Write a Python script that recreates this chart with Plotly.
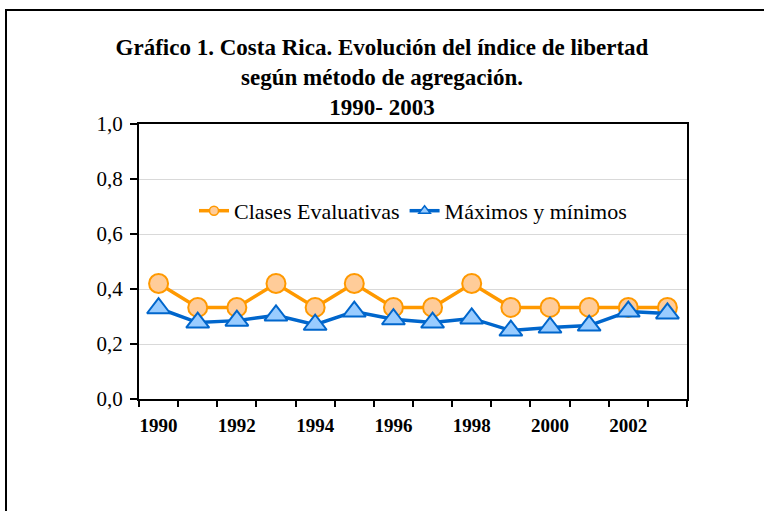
import plotly.graph_objects as go

years = list(range(1990, 2004))
clases = [0.42, 0.333, 0.333, 0.42, 0.333, 0.42, 0.333, 0.333, 0.42, 0.333, 0.333, 0.333, 0.333, 0.333]
maxmin = [0.33, 0.278, 0.285, 0.304, 0.27, 0.318, 0.29, 0.278, 0.293, 0.249, 0.26, 0.267, 0.318, 0.311]
tick_years = [1990, 1992, 1994, 1996, 1998, 2000, 2002]
names = ["Clases Evaluativas", "Máximos y mínimos"]

FONT = "Liberation Serif, Times New Roman, serif"
orange, orange_fill = "#FF9900", "#FFCC99"
blue, blue_fill = "#0066CC", "#99CCFF"

fig = go.Figure()
fig.add_trace(go.Scatter(x=years, y=clases, mode="lines+markers", name=names[0], showlegend=False,
                         line=dict(color=orange, width=3.5),
                         marker=dict(symbol="circle", size=19, color=orange_fill, line=dict(color=orange, width=2))))
fig.add_trace(go.Scatter(x=years, y=maxmin, mode="lines+markers", name=names[1], showlegend=False,
                         line=dict(color=blue, width=3.5),
                         marker=dict(symbol="triangle-up", size=20, color=blue_fill, line=dict(color=blue, width=2))))
# legend entries
fig.add_trace(go.Scatter(x=[None], y=[None], mode="lines+markers", name=names[0],
                         line=dict(color=orange, width=3.5),
                         marker=dict(symbol="circle", size=9, color=orange_fill, line=dict(color=orange, width=1.5))))
fig.add_trace(go.Scatter(x=[None], y=[None], mode="lines+markers", name=names[1],
                         line=dict(color=blue, width=3.5),
                         marker=dict(symbol="triangle-up", size=10, color=blue_fill, line=dict(color=blue, width=1.5))))

fig.update_layout(
    width=764, height=511,
    margin=dict(l=139, r=77, t=124, b=112),
    paper_bgcolor="white", plot_bgcolor="white",
    separators=",.",
    font=dict(family=FONT, color="black", size=20),
    title=dict(text="<b>Gráfico 1. Costa Rica. Evolución del índice de libertad<br>según método de agregación.<br>1990- 2003</b>",
               x=0.5, xanchor="center", xref="container", y=1 - 55 / 511, yanchor="top", yref="container",
               font=dict(family=FONT, size=23, color="black")),
    legend=dict(orientation="h", x=0.5, xanchor="center", y=0.684, yanchor="middle",
                bgcolor="rgba(0,0,0,0)", font=dict(family=FONT, size=22),
                tracegroupgap=0),
    showlegend=True,
)
fig.update_xaxes(range=[1989.5, 2003.5], tickmode="array", tickvals=tick_years,
                 ticktext=[f"<b>{y}</b>" for y in tick_years], ticks="", ticklen=0,
                 ticklabelstandoff=8,
                 showline=True, linecolor="black", linewidth=2, mirror=True, showgrid=False, zeroline=False,
                 tickfont=dict(family=FONT, size=19),
                 minor=dict(tick0=1989.5, dtick=1, ticks="outside", ticklen=6, tickwidth=2, tickcolor="black", showgrid=False))
fig.update_yaxes(range=[0, 1], tickmode="linear", tick0=0, dtick=0.2, tickformat=".1f",
                 ticks="outside", ticklen=7, tickwidth=2, tickcolor="black", ticklabelstandoff=3,
                 showline=True, linecolor="black", linewidth=2, mirror=True,
                 showgrid=True, gridcolor="#D9D9D9", gridwidth=1, zeroline=False,
                 tickfont=dict(family=FONT, size=21))
# outer chart border
fig.add_shape(type="rect", xref="paper", yref="paper",
              x0=(6 - 139) / 548, x1=(775 - 139) / 548, y0=(399 - 520) / 275, y1=(399 - 10) / 275,
              line=dict(color="black", width=2), fillcolor="rgba(0,0,0,0)", layer="below")
fig.write_html("out.html", config={"displayModeBar": False},
               post_script="document.body.style.margin='0';document.body.style.padding='0';")
